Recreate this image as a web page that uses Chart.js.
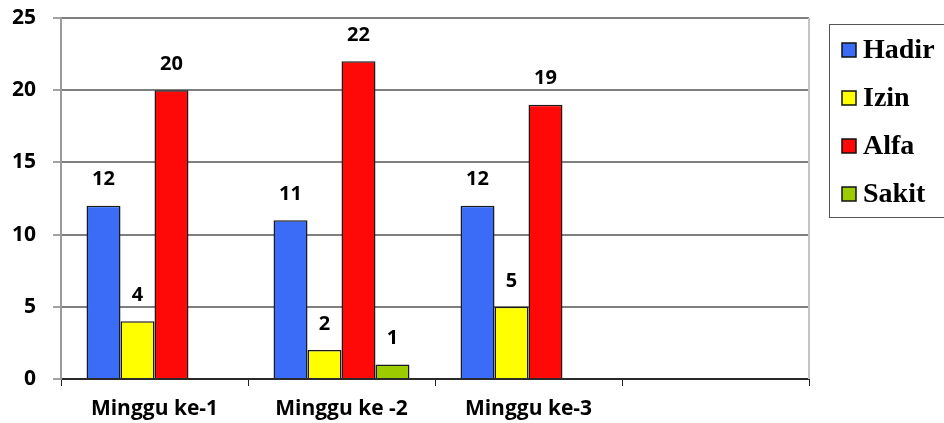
<!DOCTYPE html>
<html>
<head>
<meta charset="utf-8">
<script src="https://cdn.jsdelivr.net/npm/chart.js@4.4.0/dist/chart.umd.min.js"></script>
<style>
  html, body { margin: 0; padding: 0; background: #fff; }
  #wrap { width: 944px; height: 423px; position: relative; }
</style>
</head>
<body>
<div id="wrap"><canvas id="absenChart"></canvas></div>
<script>
// data
const categories = ['Minggu ke-1', 'Minggu ke -2', 'Minggu ke-3', ''];
const hadir = [12, 11, 12, 0];
const izin = [4, 2, 5, 0];
const alfa = [20, 22, 19, 0];
const sakit = [0, 1, 0, 0];
const yTicks = [0, 5, 10, 15, 20, 25];

const seriesNames = ['Hadir', 'Izin', 'Alfa', 'Sakit'];
const seriesColors = ['#3a6cf8', '#ffff00', '#ff0808', '#9ccc00'];
const seriesValues = [hadir, izin, alfa, sakit];

const tickFont = { family: 'Open Sans', size: 21, weight: 'bold' };

//Value labels above the bars
const valueLabels = {
    id: 'valueLabels',
    afterDatasetsDraw(chart) {
        const ctx = chart.ctx;
        ctx.save();
        ctx.font = 'bold 20px "Open Sans"';
        ctx.fillStyle = '#000';
        ctx.textAlign = 'center';
        ctx.textBaseline = 'middle';
        chart.data.datasets.forEach((ds, i) => {
            chart.getDatasetMeta(i).data.forEach((bar, j) => {
                if (ds.data[j]) ctx.fillText(String(ds.data[j]), bar.x, bar.y - 26);
            });
        });
        ctx.restore();
    }
};

//Right border + boxed legend
const frameAndLegend = {
    id: 'frameAndLegend',
    afterDraw(chart) {
        const ctx = chart.ctx;
        const a = chart.chartArea;
        ctx.save();
        ctx.strokeStyle = '#c4c4c4';
        ctx.lineWidth = 2;
        ctx.beginPath();
        ctx.moveTo(a.right, a.top);
        ctx.lineTo(a.right, a.bottom);
        ctx.stroke();

        ctx.strokeStyle = '#555';
        ctx.lineWidth = 1;
        ctx.strokeRect(829.5, 24.5, 120, 193);

        ctx.font = 'bold 28px "Liberation Serif", serif';
        ctx.textBaseline = 'middle';
        ctx.textAlign = 'left';
        chart.data.datasets.forEach((ds, i) => {
            const cy = 50 + i * 48;
            ctx.fillStyle = ds.backgroundColor;
            ctx.fillRect(842, cy - 7, 14, 14);
            ctx.strokeStyle = '#111';
            ctx.lineWidth = 1.5;
            ctx.strokeRect(842, cy - 7, 14, 14);
            ctx.fillStyle = '#000';
            ctx.fillText(ds.label, 863, cy + 1);
        });
        ctx.restore();
    }
};

const ctx = document.getElementById('absenChart').getContext('2d');
new Chart(ctx, {
    type: 'bar',
    data: {
        labels: categories,
        datasets: seriesNames.map((name, i) => ({
            label: name,
            data: seriesValues[i],
            backgroundColor: seriesColors[i],
            borderColor: '#1a1a1a',
            borderWidth: c => (c.raw ? 1.5 : 0),
            categoryPercentage: 0.727,
            barPercentage: 1
        }))
    },
    options: {
        responsive: true,
        maintainAspectRatio: false,
        animation: false,
        layout: { padding: { top: 18, right: 135, left: 0, bottom: 0 } },
        plugins: {
            legend: { display: false },
            tooltip: { enabled: false }
        },
        scales: {
            x: {
                grid: {
                    drawOnChartArea: false,
                    drawTicks: true,
                    tickLength: 7,
                    color: '#222',
                    lineWidth: 1
                },
                border: { color: '#2a2a2a', width: 2 },
                ticks: { font: tickFont, color: '#000', padding: 10 },
                afterFit: s => { s.height = 44; s.paddingLeft = 0; s.paddingRight = 0; }
            },
            y: {
                min: 0,
                max: 25,
                afterBuildTicks: s => { s.ticks = yTicks.map(v => ({ value: v })); },
                grid: {
                    color: '#7f7f7f',
                    lineWidth: 2,
                    tickLength: 8,
                    tickColor: '#444',
                    tickWidth: 1
                },
                border: { color: '#9a9a9a', width: 2 },
                ticks: { font: tickFont, color: '#000', padding: 17 },
                afterFit: s => { s.width = 61; s.paddingTop = 0; s.paddingBottom = 0; }
            }
        }
    },
    plugins: [valueLabels, frameAndLegend]
});
</script>
</body>
</html>
